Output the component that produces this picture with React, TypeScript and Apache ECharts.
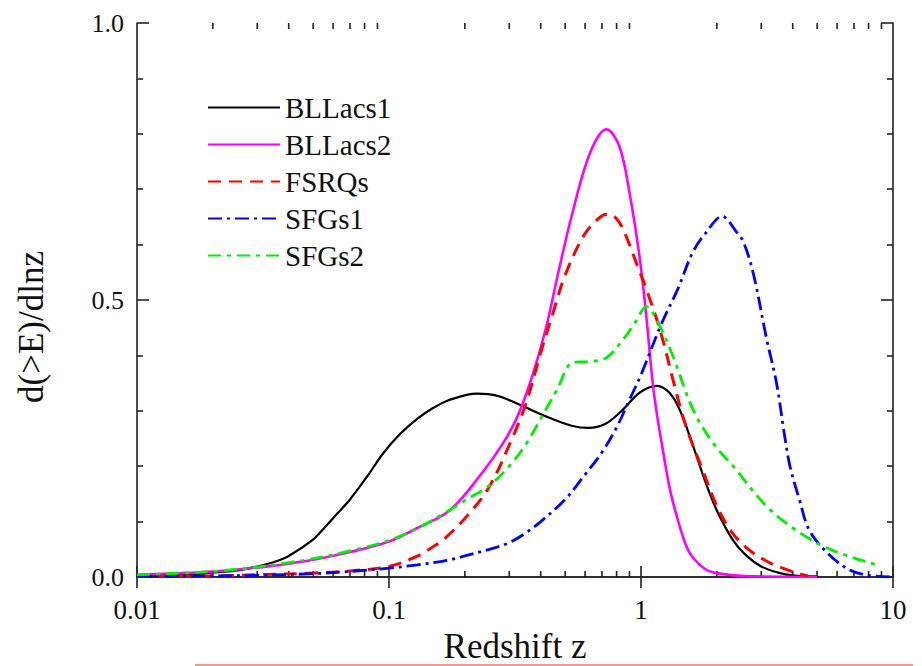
import React, { useEffect, useRef } from "react";
import * as echarts from "echarts";

const seriesNames = ["BLLacs1", "BLLacs2", "FSRQs", "SFGs1", "SFGs2"];
const xTickLabels = ["0.01", "0.1", "1", "10"];
const xMinorTicks = [
  0.02, 0.03, 0.04, 0.05, 0.06, 0.07, 0.08, 0.09,
  0.2, 0.3, 0.4, 0.5, 0.6, 0.7, 0.8, 0.9,
  2, 3, 4, 5, 6, 7, 8, 9,
];

const bllacs1: [number, number][] = [
  [0.01, 0.001], [0.015, 0.004], [0.02, 0.008], [0.025, 0.012], [0.03, 0.019],
  [0.035, 0.027], [0.04, 0.038], [0.0495, 0.066], [0.0557, 0.09],
  [0.0622, 0.114], [0.07, 0.14], [0.0818, 0.181], [0.0947, 0.223], [0.1106, 0.258],
  [0.129, 0.285], [0.1495, 0.305], [0.1746, 0.32], [0.2236, 0.331], [0.27, 0.327],
  [0.322, 0.313], [0.435, 0.287], [0.53, 0.273], [0.62, 0.269], [0.72, 0.276],
  [0.83, 0.298], [0.99, 0.333], [1.157, 0.345], [1.3, 0.332], [1.43, 0.3],
  [1.6, 0.24], [1.8, 0.172], [2.0, 0.12], [2.32, 0.066], [2.6, 0.04],
  [3.0, 0.019], [3.5, 0.008], [4.0, 0.003], [5.0, 0.001],
];

const bllacs2: [number, number][] = [
  [0.01, 0.004], [0.015, 0.007], [0.02, 0.01], [0.03, 0.017], [0.04, 0.024],
  [0.05, 0.031], [0.07, 0.045], [0.1, 0.064], [0.129, 0.088], [0.175, 0.121],
  [0.236, 0.19], [0.284, 0.242], [0.323, 0.289], [0.37, 0.362], [0.42, 0.45],
  [0.47, 0.55], [0.535, 0.658], [0.63, 0.767], [0.73, 0.808], [0.82, 0.778],
  [0.9, 0.694], [0.99, 0.573], [1.05, 0.47], [1.11, 0.355], [1.16, 0.29],
  [1.22, 0.23], [1.3, 0.16], [1.39, 0.108], [1.5, 0.06], [1.6, 0.036],
  [1.8, 0.014], [2.0, 0.007], [2.5, 0.002], [3.0, 0.001], [5.0, 0.0],
];

const fsrqs: [number, number][] = [
  [0.01, 0.001], [0.02, 0.002], [0.03, 0.004], [0.05, 0.007], [0.07, 0.011],
  [0.1, 0.019], [0.13, 0.038], [0.15, 0.055], [0.164, 0.067], [0.203, 0.109],
  [0.25, 0.163], [0.31, 0.253], [0.35, 0.314], [0.4, 0.405], [0.45, 0.48],
  [0.5, 0.545], [0.6, 0.62], [0.7, 0.652], [0.75, 0.655], [0.82, 0.64],
  [0.9, 0.6], [0.97, 0.56], [1.05, 0.52], [1.2, 0.44], [1.35, 0.35],
  [1.5, 0.275], [1.75, 0.195], [2.0, 0.128], [2.3, 0.08], [2.7, 0.048],
  [3.2, 0.027], [3.6, 0.017], [4.3, 0.005], [4.6, 0.002],
];

const sfgs1: [number, number][] = [
  [0.01, 0.001], [0.02, 0.002], [0.03, 0.003], [0.05, 0.006], [0.07, 0.01],
  [0.1, 0.016], [0.13, 0.022], [0.17, 0.03], [0.2, 0.038], [0.25, 0.05],
  [0.3, 0.062], [0.35, 0.08], [0.4, 0.1], [0.5, 0.14], [0.6, 0.185],
  [0.7, 0.225], [0.8, 0.27], [0.9, 0.32], [1.0, 0.365], [1.2, 0.455],
  [1.4, 0.52], [1.6, 0.585], [1.8, 0.62], [2.1, 0.651], [2.4, 0.622],
  [2.55, 0.605], [2.8, 0.545], [3.15, 0.43], [3.45, 0.35], [3.7, 0.26],
  [3.9, 0.2], [4.25, 0.14], [4.65, 0.085], [5.5, 0.043], [6.7, 0.013],
  [8.0, 0.003], [10.0, 0.0],
];

const sfgs2: [number, number][] = [
  [0.01, 0.004], [0.015, 0.007], [0.02, 0.01], [0.03, 0.018], [0.04, 0.026],
  [0.05, 0.033], [0.07, 0.047], [0.1, 0.066], [0.13, 0.088], [0.17, 0.118],
  [0.2, 0.138], [0.25, 0.165], [0.3, 0.2], [0.35, 0.24], [0.398, 0.284],
  [0.464, 0.338], [0.536, 0.387], [0.626, 0.389], [0.73, 0.396], [0.85, 0.429],
  [0.95, 0.46], [1.05, 0.488], [1.19, 0.452], [1.34, 0.398], [1.61, 0.302],
  [1.93, 0.242], [2.32, 0.2], [3.16, 0.127], [4.26, 0.08], [5.7, 0.049],
  [8.6, 0.022],
];

const FONT = "'Liberation Serif', 'Times New Roman', serif";

export default function App() {
  const ref = useRef<HTMLDivElement>(null);
  useEffect(() => {
    if (!ref.current) return;
    const chart = echarts.init(ref.current, undefined, { renderer: "svg" });
    const axisLine = { show: true, lineStyle: { color: "#222", width: 1.6 } };
    const lineSeries = (
      name: string,
      data: [number, number][],
      color: string,
      width: number,
      type: any
    ) => ({
      name,
      type: "line",
      data,
      showSymbol: false,
      symbol: "none",
      smooth: 0.35,
      lineStyle: { color, width, type },
      itemStyle: { color },
      z: 3,
    });
    const fmtX = (v: number) => {
      const s = String(Number(v.toPrecision(6)));
      return xTickLabels.includes(s) ? s : "";
    };
    chart.setOption({
      animation: false,
      grid: {
        left: 137,
        top: 23,
        right: 29,
        bottom: 89,
        containLabel: false,
        outerBoundsMode: "none",
      },
      legend: {
        orient: "vertical",
        left: 207,
        top: 93,
        padding: 0,
        itemWidth: 72,
        itemHeight: 20,
        itemGap: 8,
        data: seriesNames,
        itemStyle: { opacity: 0, borderWidth: 0 },
        textStyle: { fontFamily: FONT, fontSize: 29, color: "#111" },
      },
      xAxis: [
        {
          type: "log",
          logBase: 10,
          min: 0.01,
          max: 10,
          position: "bottom",
          axisLine,
          axisTick: { show: true, inside: true, length: 11, lineStyle: { color: "#222", width: 1.6 } },
          axisLabel: { fontFamily: FONT, fontSize: 27, color: "#111", margin: 19, formatter: fmtX },
          splitLine: { show: false },
          name: "Redshift z",
          nameLocation: "middle",
          nameGap: 52,
          nameTextStyle: { fontFamily: FONT, fontSize: 35, color: "#111" },
        },
        {
          type: "log",
          logBase: 10,
          min: 0.01,
          max: 10,
          position: "top",
          axisLine,
          axisTick: { show: true, inside: true, length: 11, lineStyle: { color: "#222", width: 1.6 } },
          axisLabel: { show: false },
          splitLine: { show: false },
        },
      ],
      yAxis: [
        {
          type: "value",
          min: 0,
          max: 1,
          interval: 0.5,
          position: "left",
          axisLine,
          axisTick: { show: true, inside: true, length: 12, lineStyle: { color: "#222", width: 1.6 } },
          minorTick: { show: true, splitNumber: 5, length: 6, lineStyle: { color: "#222", width: 1.6 } },
          axisLabel: {
            fontFamily: FONT,
            fontSize: 26,
            color: "#111",
            margin: 13,
            formatter: (v: number) => v.toFixed(1),
          },
          splitLine: { show: false },
          name: "d(>E)/dlnz",
          nameLocation: "middle",
          nameGap: 88,
          nameTextStyle: { fontFamily: FONT, fontSize: 35, color: "#111", padding: [0, 54, 0, 0] },
        },
        {
          type: "value",
          min: 0,
          max: 1,
          interval: 0.5,
          position: "right",
          axisLine,
          axisTick: { show: true, inside: true, length: 12, lineStyle: { color: "#222", width: 1.6 } },
          minorTick: { show: true, splitNumber: 5, length: 6, lineStyle: { color: "#222", width: 1.6 } },
          axisLabel: { show: false },
          splitLine: { show: false },
        },
      ],
      series: [
        lineSeries("BLLacs1", bllacs1, "#000000", 2.2, "solid"),
        lineSeries("BLLacs2", bllacs2, "#ff00ff", 2.6, "solid"),
        lineSeries("FSRQs", fsrqs, "#ff0000", 3, [13, 8]),
        lineSeries("SFGs1", sfgs1, "#0000ff", 2.8, [14, 5, 3, 5]),
        lineSeries("SFGs2", sfgs2, "#00ee00", 2.8, [13, 6, 4, 6]),
        {
          type: "custom",
          name: "minorTicks",
          xAxisIndex: 0,
          yAxisIndex: 0,
          silent: true,
          data: xMinorTicks.map((z) => [z, 0]),
          renderItem: (params: any, api: any) => {
            const x = api.coord([api.value(0), 0])[0];
            const cs = params.coordSys;
            const style = { stroke: "#222", lineWidth: 1.6 };
            return {
              type: "group",
              children: [
                { type: "line", shape: { x1: x, y1: cs.y + cs.height, x2: x, y2: cs.y + cs.height - 6 }, style },
                { type: "line", shape: { x1: x, y1: cs.y, x2: x, y2: cs.y + 6 }, style },
              ],
            };
          },
        },
      ],
      graphic: [
        {
          type: "line",
          shape: { x1: 195, y1: 665, x2: 913, y2: 665 },
          style: { stroke: "#e27b6a", lineWidth: 1.5 },
        },
      ],
    });
    return () => chart.dispose();
  }, []);
  return (
    <div
      ref={ref}
      style={{ position: "fixed", left: 0, top: 0, width: 922, height: 666, background: "#fff" }}
    />
  );
}
